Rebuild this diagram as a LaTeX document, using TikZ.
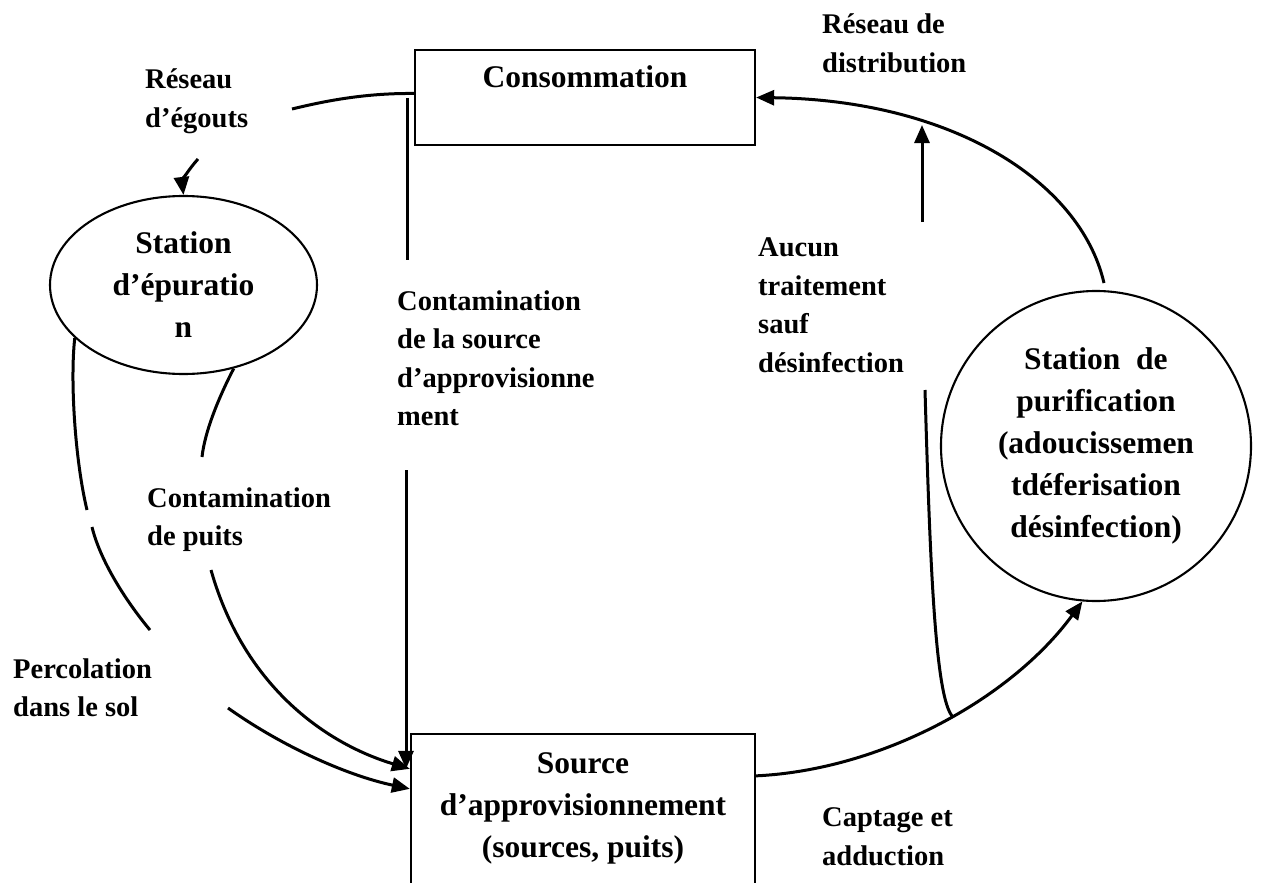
\documentclass[tikz,border=0pt]{standalone}
\usepackage{fontspec}
\setmainfont{Liberation Serif}
\usetikzlibrary{arrows.meta, shapes.geometric}

\newcommand{\shpfont}{\fontsize{31.5}{42}\selectfont\bfseries}
\newcommand{\lblfont}{\fontsize{28.5}{38.5}\selectfont\bfseries}

\tikzset{
	box/.style={draw, line width=2.3pt, rectangle, inner sep=0pt, align=center, font=\shpfont},
	station/.style={draw, line width=2.1pt, inner sep=0pt, align=center, font=\shpfont},
	lbl/.style={anchor=north west, inner sep=0pt, align=left, font=\lblfont},
	flow/.style={line width=3pt},
	tip/.style={-{Triangle[length=18pt, width=15pt]}}
}

\begin{document}
\begin{tikzpicture}[x=1pt, y=-1pt]
				
				% Frame
				\useasboundingbox (0,0) rectangle (1278,883);
				\clip (0,0) rectangle (1278,883);
				
				% Boxes and stations
				\node[box, minimum width=340pt, minimum height=95pt] (conso) at (585,97.5)
				{Consommation\\\mbox{}};
				\node[box, minimum width=344pt, minimum height=184pt] (src) at (583,826)
				{Source\\d’approvisionnement\\(sources, puits)\\\mbox{}};
				\node[station, ellipse, minimum width=267pt, minimum height=178pt] (epur) at (183.5,285)
				{Station\\d’épuratio\\n};
				\node[station, circle, minimum size=310pt] (purif) at (1096,446)
				{Station \ de\\purification\\(adoucissemen\\tdéferisation\\désinfection)};
				
				% Free ends of the broken lines
				\coordinate (eg1) at (292,109);
				\coordinate (eg2) at (198,159);
				\coordinate (cs1) at (407,98);
				\coordinate (cs2) at (407,260);
				\coordinate (cs3) at (406,470);
				\coordinate (pu1) at (202,457);
				\coordinate (pu2) at (211,570);
				\coordinate (pe1) at (87,510);
				\coordinate (pe2) at (92,527);
				\coordinate (pe3) at (150,630);
				\coordinate (pe4) at (228,708);
				\coordinate (di0) at (1104,283);
				\coordinate (up0) at (922,222);
				\coordinate (up1) at (922,125);
				\coordinate (tr0) at (925,390);
				\coordinate (tr1) at (953,717);
				\coordinate (srcA) at ([yshift=-36pt]src.north west);
				\coordinate (srcB) at ([yshift=-56pt]src.north west);
				
				% Sewer network
				\draw[flow] ([yshift=4pt]conso.west) .. controls (365,93) and (325,101) .. (eg1);
				\draw[flow, tip] (eg2) .. controls (188,170) and (182,182) .. (epur.north);
				
				% Contamination of the supply
				\draw[flow] (cs1) -- (cs2);
				\draw[flow, tip] (cs3) -- (cs3 |- srcA);
				
				% Contamination of wells
				\draw[flow] (epur.-59) .. controls (220,395) and (205,430) .. (pu1);
				\draw[flow, tip] (pu2) .. controls (245,690) and (330,745) .. (srcA);
				
				% Percolation
				\draw[flow] (epur.-154) .. controls (70,380) and (75,460) .. (pe1);
				\draw[flow] (pe2) .. controls (100,560) and (125,600) .. (pe3);
				\draw[flow, tip] (pe4) .. controls (280,745) and (345,775) .. (srcB);
				
				% Intake
				\draw[flow, tip] ([yshift=-43pt]src.north east) .. controls (880,770) and (1010,700) .. (purif.-95);
				
				% No treatment
				\draw[flow] (tr0) .. controls (930,560) and (935,700) .. (tr1);
				\draw[flow, tip] (up0) -- (up1);
				
				% Distribution
				\draw[flow, tip] (di0) .. controls (1080,180) and (950,100) .. (conso.east);
				
				% Labels
				\node[lbl] (egouts) at (145,68.5) {Réseau\\d’égouts};
				\node[lbl] (contsrc) at (397,290.5) {Contamination\\de la source\\d’approvisionne\\ment};
				\node[lbl] (aucun) at (758,237.5) {Aucun\\traitement\\sauf\\désinfection};
				\node[lbl] (distrib) at (822,13.5) {Réseau de\\distribution};
				\node[lbl] (contpuits) at (147,487.5) {Contamination\\de puits};
				\node[lbl] (percol) at (13,658.5) {Percolation\\dans le sol};
				\node[lbl] (captage) at (822,807.5) {Captage et\\adduction};
				
			\end{tikzpicture}
\end{document}
